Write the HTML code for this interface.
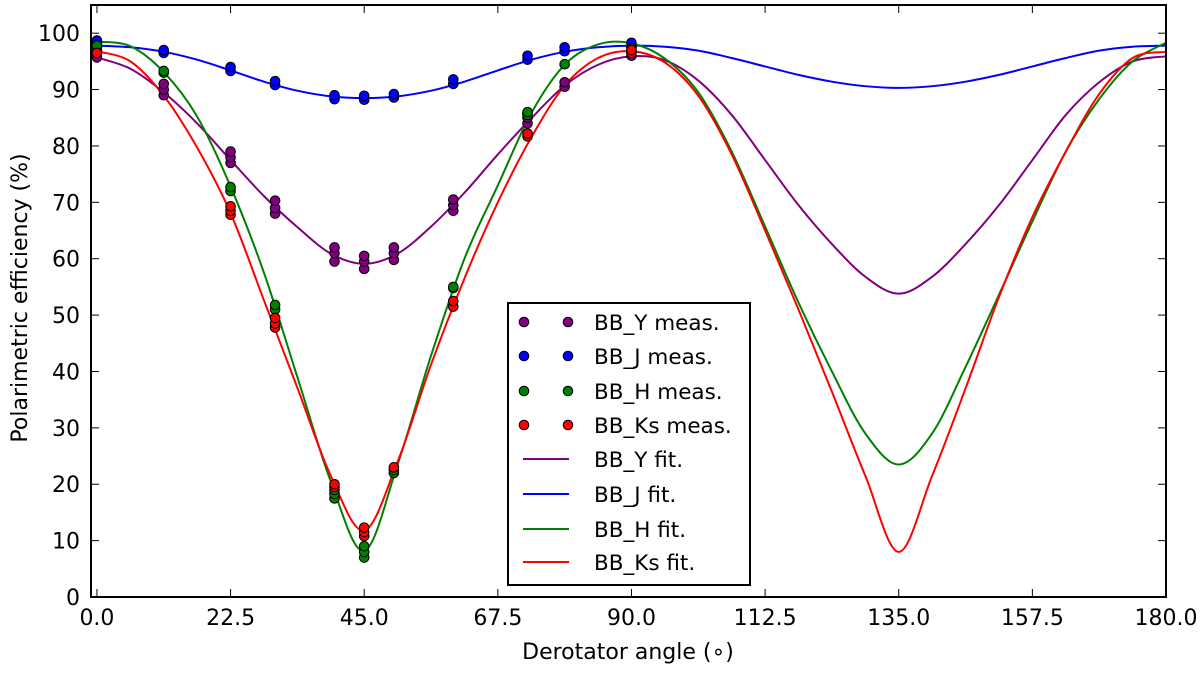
<!DOCTYPE html>
<html><head><meta charset="utf-8"><style>
body{margin:0;background:#fff}
svg text{font-family:"DejaVu Sans","Liberation Sans",sans-serif;fill:#000}
</style></head><body>
<svg id="chart" width="1200" height="668" viewBox="0 0 1200 668" xmlns="http://www.w3.org/2000/svg">
<g id="lines"></g>
<g id="marks"></g>
<g id="axes"></g>
<g id="legend"></g>
</svg>
<script>
// fit curve samples (every 5.625 deg)
const fitAngles = [0,5.625,11.25,16.875,22.5,28.125,33.75,39.375,45,50.625,56.25,61.875,67.5,73.125,78.75,84.375,90,95.625,101.25,106.875,112.5,118.125,123.75,129.375,135,140.625,146.25,151.875,157.5,163.125,168.75,174.375,180];
const fitY  = [95.7,93.7,89.5,84.0,77.5,71.1,65.6,60.9,59.1,60.9,65.7,71.7,78.5,84.9,90.7,94.4,95.9,95.2,91.6,85.5,77.5,69.5,62.6,56.8,53.8,56.8,62.6,69.5,77.5,85.5,91.3,95.0,95.9];
const fitJ  = [97.8,97.5,96.7,95.3,93.4,91.4,89.8,88.8,88.5,88.8,89.8,91.4,93.4,95.3,96.7,97.5,97.8,97.6,96.9,95.6,94.1,92.6,91.4,90.6,90.3,90.6,91.4,92.6,94.1,95.6,96.9,97.6,97.8];
const fitH  = [98.5,97.7,93.1,85.2,72.8,57.5,39.0,20.5,8.2,23.5,42.8,60.0,73.0,85.8,94.4,98.0,98.2,95.5,89.5,79.0,65.7,52.2,40.0,29.0,23.5,29.0,40.8,53.6,66.6,79.0,88.3,95.0,98.3];
const fitKs = [96.8,95.0,88.9,79.7,68.1,52.6,37.1,21.5,11.8,24.0,41.2,56.5,70.0,81.5,90.7,95.6,96.8,94.8,88.9,78.5,65.0,51.0,36.4,21.5,8.0,21.5,37.0,53.2,67.4,79.0,89.2,95.6,96.7];
// measurements
const measAngles = [0,11.25,22.5,30,40,45,50,60,72.5,78.75,90];
const measY  = [[95.7,96.5,97],[89,90,91],[77,78,79],[68,69,70.3],[59.5,61,62],[58.2,59.5,60.5],[59.8,61,62],[68.5,69.5,70.5],[84,85,85.8],[90.5,91.3],[96,96.8]];
const measJ  = [[97.5,98.2,98.7],[96.5,97],[93.3,94],[90.8,91.5],[88.3,89],[88.2,88.9],[88.6,89.2],[91,91.8],[95.3,96],[96.8,97.5],[97.5,98.3]];
const measH  = [[97.8],[93,93.3],[72,72.7],[51,51.8],[17.5,18.3,19],[7,8,9],[22,22.5],[54.8,55],[85.5,86],[94.5],[97.3]];
const measKs = [[96.5],[],[67.8,68.5,69.3],[47.8,48.5,49.5],[19.5,20],[10.8,11.5,12.3],[23],[51.5,52.5],[81.7,82.2],[],[96.5,97]];
const xTicks = [0,22.5,45,67.5,90,112.5,135,157.5,180];
const yTicks = [0,10,20,30,40,50,60,70,80,90,100];
const seriesNames = ["BB_Y","BB_J","BB_H","BB_Ks"];
const colors = ["#800080","#0000ff","#008000","#ff0000"];

const L=91,R=1166,T=5,B=597, xmin=-1,xmax=180,ymin=0,ymax=105;
const X=v=>L+(v-xmin)/(xmax-xmin)*(R-L);
const Y=v=>B-(v-ymin)/(ymax-ymin)*(B-T);
const NS="http://www.w3.org/2000/svg";
function mk(tag,attrs,parent){const e=document.createElementNS(NS,tag);for(const k in attrs)e.setAttribute(k,attrs[k]);parent.appendChild(e);return e;}
const gl=document.getElementById('lines'),gm=document.getElementById('marks'),ga=document.getElementById('axes'),gleg=document.getElementById('legend');
const defs=mk('defs',{},document.getElementById('chart'));
const cp=mk('clipPath',{id:'clip'},defs);mk('rect',{x:L,y:T,width:R-L,height:B-T},cp);

const fits=[fitY,fitJ,fitH,fitKs];
fits.forEach((arr,si)=>{
  const p=fitAngles.map((a,i)=>[X(a),Y(arr[i])]);
  let d=`M${p[0][0]},${p[0][1]}`;
  for(let i=0;i<p.length-1;i++){
    const p0=p[Math.max(0,i-1)],p1=p[i],p2=p[i+1],p3=p[Math.min(p.length-1,i+2)];
    const c1=[p1[0]+(p2[0]-p0[0])/6,p1[1]+(p2[1]-p0[1])/6];
    const c2=[p2[0]-(p3[0]-p1[0])/6,p2[1]-(p3[1]-p1[1])/6];
    d+=`C${c1[0]},${c1[1]} ${c2[0]},${c2[1]} ${p2[0]},${p2[1]}`;
  }
  const path=mk('path',{d:d,fill:'none',stroke:colors[si],'stroke-width':2,'clip-path':'url(#clip)'},gl);
  
  
});

const meas=[measY,measJ,measH,measKs];
meas.forEach((ser,si)=>{
  ser.forEach((vals,i)=>{
    vals.forEach(v=>{
      const c=mk('circle',{cx:X(measAngles[i]),cy:Y(v),r:4.8,fill:colors[si],stroke:'#000','stroke-width':1},gm);
      
      
    });
  });
});

const fr=mk('rect',{x:L,y:T,width:R-L,height:B-T,fill:'none',stroke:'#000','stroke-width':2},ga);


xTicks.forEach(t=>{
  const x=X(t);
  mk('line',{x1:x,x2:x,y1:B,y2:B-8,stroke:'#000','stroke-width':1},ga);
  mk('line',{x1:x,x2:x,y1:T,y2:T+8,stroke:'#000','stroke-width':1},ga);
  const tx=mk('text',{x:x,y:625,'text-anchor':'middle','font-size':22},ga);
  tx.textContent=t.toFixed(1);
  
  
});
yTicks.forEach(t=>{
  const y=Y(t);
  mk('line',{x1:L,x2:L+8,y1:y,y2:y,stroke:'#000','stroke-width':1},ga);
  mk('line',{x1:R,x2:R-8,y1:y,y2:y,stroke:'#000','stroke-width':1},ga);
  const tx=mk('text',{x:80,y:y+8,'text-anchor':'end','font-size':22},ga);
  tx.textContent=t;
  
  
});
const xt=mk('text',{x:628,y:659,'text-anchor':'middle','font-size':22},ga);
xt.textContent='Derotator angle (\u2218)';


const yt=mk('text',{x:0,y:0,'text-anchor':'middle','font-size':22,transform:'translate(27,298) rotate(-90)'},ga);
yt.textContent='Polarimetric efficiency (%)';



const lb=mk('rect',{x:508,y:303,width:242,height:282,fill:'#fff',stroke:'#000','stroke-width':2},gleg);


const rows=[322,356,391,425,459,494,529,562];
seriesNames.forEach((n,i)=>{
  const y=rows[i];
  mk('circle',{cx:524,cy:y,r:4.8,fill:colors[i],stroke:'#000','stroke-width':1},gleg);
  mk('circle',{cx:568,cy:y,r:4.8,fill:colors[i],stroke:'#000','stroke-width':1},gleg);
  const t=mk('text',{x:594,y:y+8,'font-size':21.5},gleg);t.textContent=n+' meas.';
  
  
});
seriesNames.forEach((n,i)=>{
  const y=rows[i+4];
  mk('line',{x1:523,x2:569,y1:y,y2:y,stroke:colors[i],'stroke-width':2},gleg);
  const t=mk('text',{x:594,y:y+8,'font-size':21.5},gleg);t.textContent=n+' fit.';
  
  
});
</script>
</body></html>
